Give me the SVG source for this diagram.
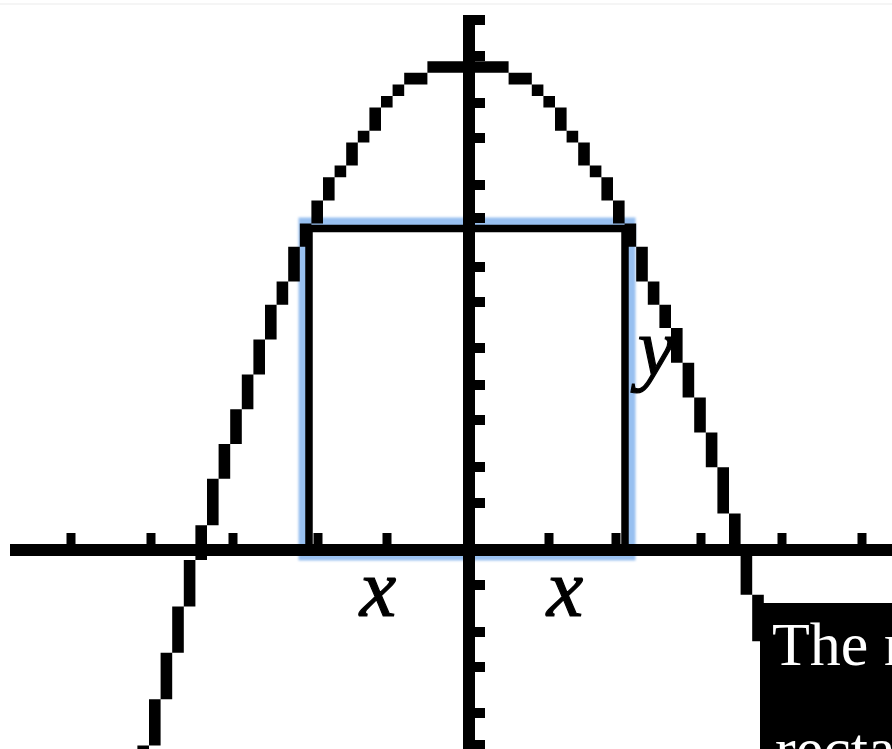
<svg xmlns="http://www.w3.org/2000/svg" width="892" height="749" viewBox="0 0 892 749">
<defs>
<style>
.ink{fill:#000;}
.lbl{font-family:"Liberation Serif","Times New Roman",serif;font-style:italic;font-size:82px;fill:#000;stroke:#000;stroke-width:1.2;text-anchor:middle;}
.cap{font-family:"Liberation Serif","Times New Roman",serif;font-size:62px;fill:#fff;}
</style>
<filter id="soft" x="-5%" y="-5%" width="110%" height="110%"><feGaussianBlur stdDeviation="0.6"/></filter>
<filter id="glow" x="-5%" y="-5%" width="110%" height="110%"><feGaussianBlur stdDeviation="1.3"/></filter>
</defs>
<rect width="892" height="749" fill="#fff"/>
<line x1="0" y1="4" x2="892" y2="4" stroke="#f2f2f2" stroke-width="1.5"/>

<g id="highlight">
<rect x="304" y="223" width="326" height="332" fill="none" stroke="#98c0f0" stroke-width="11" filter="url(#glow)"/>
</g>

<g id="axes" class="ink" filter="url(#soft)">
<rect x="463" y="15" width="12" height="734"/>
<rect x="10" y="544" width="882" height="12"/>
<path d="M469 15h16v10h-16z M469 51h16v10h-16z M469 98h16v10h-16z M469 133h16v10h-16z M469 180h16v10h-16z M469 213h16v10h-16z M469 262h16v10h-16z M469 297h16v10h-16z M469 343h16v10h-16z M469 380h16v10h-16z M469 415h16v10h-16z M469 462h16v10h-16z M469 498h16v10h-16z M469 580h16v10h-16z M469 627h16v10h-16z M469 662h16v10h-16z M469 708h16v10h-16z M469 740h16v10h-16z"/>
<path d="M66.5 533h9v12h-9z M146.5 533h9v12h-9z M228.5 533h9v12h-9z M313.5 533h9v12h-9z M382.5 533h9v12h-9z M544.5 533h9v12h-9z M611.5 533h9v12h-9z M696.5 533h9v12h-9z M777.5 533h9v12h-9z M857.5 533h9v12h-9z"/>
</g>

<g id="curve" class="ink" filter="url(#soft)">
<path d="
M427.4 61.2h81.2v11.6h-81.2z
M404.2 72.8h23.2v11.6h-23.2z
M392.6 84.4h11.6v11.6h-11.6z
M381 96h11.6v11.6h-11.6z
M369.4 107.6h11.6v23.2h-11.6z
M357.8 130.8h11.6v11.6h-11.6z
M346.2 142.4h11.6v23.2h-11.6z
M334.6 165.6h11.6v11.6h-11.6z
M323 177.2h11.6v23.2h-11.6z
M311.4 200.4h11.6v23.2h-11.6z
M299.8 223.6h11.6v23.2h-11.6z
M288.2 246.8h11.6v34.8h-11.6z
M276.6 281.6h11.6v23.2h-11.6z
M265 304.8h11.6v34.8h-11.6z
M253.4 339.6h11.6v34.8h-11.6z
M241.8 374.4h11.6v34.8h-11.6z
M230.2 409.2h11.6v34.8h-11.6z
M218.6 444h11.6v34.8h-11.6z
M207 478.8h11.6v46.4h-11.6z
M195.4 525.2h11.6v34.8h-11.6z
M183.8 560h11.6v46.4h-11.6z
M172.2 606.4h11.6v46.4h-11.6z
M160.6 652.8h11.6v46.4h-11.6z
M149 699.2h11.6v46.4h-11.6z
M137.4 745.6h11.6v46.4h-11.6z
M508.6 72.8h23.2v11.6h-23.2z
M531.8 84.4h11.6v11.6h-11.6z
M543.4 96h11.6v11.6h-11.6z
M555 107.6h11.6v23.2h-11.6z
M566.6 130.8h11.6v11.6h-11.6z
M578.2 142.4h11.6v23.2h-11.6z
M589.8 165.6h11.6v11.6h-11.6z
M601.4 177.2h11.6v23.2h-11.6z
M613 200.4h11.6v23.2h-11.6z
M624.6 223.6h11.6v23.2h-11.6z
M636.2 246.8h11.6v34.8h-11.6z
M647.8 281.6h11.6v23.2h-11.6z
M659.4 304.8h11.6v23.2h-11.6z
M671 328h11.6v34.8h-11.6z
M682.6 362.8h11.6v34.8h-11.6z
M694.2 397.6h11.6v34.8h-11.6z
M705.8 432.4h11.6v34.8h-11.6z
M717.4 467.2h11.6v46.4h-11.6z
M729 513.6h11.6v34.8h-11.6z
M740.6 548.4h11.6v46.4h-11.6z
M752.2 594.8h11.6v46.4h-11.6z
M763.8 641.2h11.6v46.4h-11.6z
M775.4 687.6h11.6v46.4h-11.6z
M787 734h11.6v46.4h-11.6z"/>
</g>

<g id="rectangle">
<rect x="309" y="228.5" width="316" height="321.5" fill="none" stroke="#000" stroke-width="7.5"/>
</g>

<g id="labels">
<text class="lbl" x="378" y="616">x</text>
<text class="lbl" x="565" y="616">x</text>
<text class="lbl" x="656" y="375">y</text>
</g>

<g id="caption">
<rect x="760" y="603" width="132" height="146" fill="#000"/>
<text class="cap" x="772" y="665">The r</text>
<text class="cap" x="775" y="770">recta</text>
</g>
</svg>
